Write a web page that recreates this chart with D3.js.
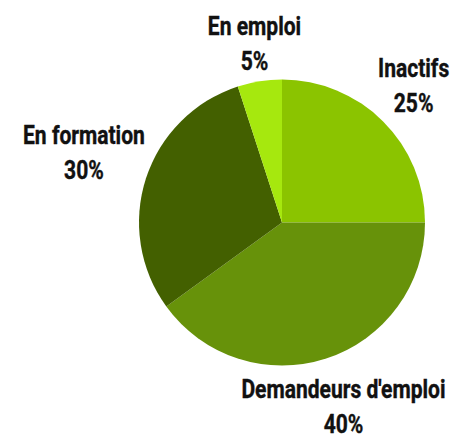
<!DOCTYPE html>
<html>
<head>
<meta charset="utf-8">
<script src="https://cdn.jsdelivr.net/npm/d3@7"></script>
<style>
  body { margin: 0; background: #fff; }
  text { font-family: Roboto, "Noto Sans", sans-serif; font-weight: bold; font-size: 26px; fill: #111; stroke: #111; stroke-width: 0.4px; }
</style>
</head>
<body>
<svg width="456" height="436"></svg>
<script>
// données
const categories = ["Inactifs", "Demandeurs d'emploi", "En formation", "En emploi"];
const valeurs = [25, 40, 30, 5];
const couleurs = ["#8bc400", "#67920a", "#436000", "#a6e80e"];

const svg = d3.select("svg");
const cx = 282, cy = 222.5, rayon = 143;

const donnees = categories.map((c, i) => ({ nom: c, valeur: valeurs[i], couleur: couleurs[i] }));

const pie = d3.pie().sort(null).value(d => d.valeur);
const arc = d3.arc().innerRadius(0).outerRadius(rayon);

const g = svg.append("g").attr("transform", `translate(${cx},${cy})`);

const parts = pie(donnees);

g.selectAll("path")
    .data(parts)
    .enter()
    .append("path")
    .attr("d", arc)
    .attr("fill", d => d.data.couleur);

// étiquettes : boîte placée à l'extérieur de la part, le long de l'angle médian
const interligne = 35;
const capHaut = 18.5;
const base = 142;
const decalage = -6;   // la boîte est un peu remontée
const etroit = 0.81;   // police condensée simulée

parts.forEach(p => {
    const a = (p.startAngle + p.endAngle) / 2;
    const ux = Math.sin(a), uy = -Math.cos(a);

    const t = g.append("text").attr("text-anchor", "middle");
    const l1 = t.append("tspan").attr("x", 0).text(p.data.nom);
    const l2 = t.append("tspan").attr("x", 0).attr("dy", interligne).text(p.data.valeur + "%");

    const w = etroit * Math.max(l1.node().getComputedTextLength(), l2.node().getComputedTextLength());
    const h = capHaut + interligne;
    const ext = Math.abs(ux) * w / 2 + Math.abs(uy) * h / 2;
    const r = base + ext;
    const x = ux * r, y = uy * r + decalage;

    // première ligne : ligne de base = haut de la boîte + hauteur des capitales
    const y1 = y - h / 2 + capHaut;
    t.attr("transform", `translate(${x},${y1}) scale(${etroit},1)`);
});
</script>
</body>
</html>
